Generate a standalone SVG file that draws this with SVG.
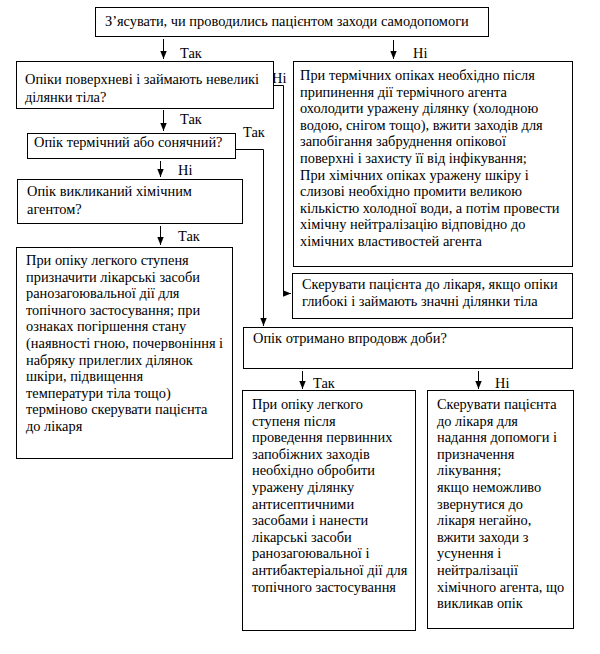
<svg xmlns="http://www.w3.org/2000/svg" width="600" height="654" viewBox="0 0 600 654">
<defs>
<marker id="ah" viewBox="0 0 8 8" refX="8" refY="4" markerWidth="8" markerHeight="8" markerUnits="userSpaceOnUse" orient="auto">
<path d="M0,0.8 L8,4 L0,7.2 Z" fill="#000"/>
</marker>
<style>
.b{fill:#fff;stroke:#000;stroke-width:1}
.t{font-family:"Liberation Serif","Times New Roman",serif;font-size:14.4px;fill:#000}
.a{fill:none;stroke:#000;stroke-width:1;marker-end:url(#ah)}
</style>
</defs>
<rect width="600" height="654" fill="#fff"/>
<g id="connectors">
<path class="a" d="M163.5,39 V59"/>
<path class="a" d="M393.5,40 V59"/>
<path class="a" d="M163.5,110 V131"/>
<path class="a" d="M273,85.5 H283.5 V293.5 H291"/>
<path class="a" d="M235,149.5 H263.5 V326"/>
<path class="a" d="M160.5,161 V177"/>
<path class="a" d="M160.5,226 V245"/>
<path class="a" d="M302.5,371 V389"/>
<path class="a" d="M478.5,371 V389"/>
<text class="t" x="180" y="58">Так</text>
<text class="t" x="413" y="58">Ні</text>
<text class="t" x="180" y="124">Так</text>
<text class="t" x="272" y="83">Ні</text>
<text class="t" x="243" y="137">Так</text>
<text class="t" x="178" y="175">Ні</text>
<text class="t" x="178" y="241">Так</text>
<text class="t" x="313" y="388">Так</text>
<text class="t" x="495" y="388">Ні</text>
</g>
<g id="n1">
<rect class="b" x="95.5" y="7.5" width="393" height="29"/>
<text class="t" x="105" y="26">З’ясувати, чи проводились пацієнтом заходи самодопомоги</text>
</g>
<g id="n2">
<rect class="b" x="16.5" y="61.5" width="257" height="47"/>
<text class="t" x="25" y="84">Опіки поверхневі і займають невеликі</text>
<text class="t" x="25" y="102">ділянки тіла?</text>
</g>
<g id="n3">
<rect class="b" x="27.5" y="133.5" width="208" height="25"/>
<text class="t" x="34" y="147">Опік термічний або сонячний?</text>
</g>
<g id="n4">
<rect class="b" x="17.5" y="179.5" width="225" height="44"/>
<text class="t" x="27" y="196">Опік викликаний хімічним</text>
<text class="t" x="27" y="214">агентом?</text>
</g>
<g id="n5">
<rect class="b" x="16.5" y="247.5" width="216" height="211"/>
<text class="t">
<tspan x="26" y="265">При опіку легкого ступеня</tspan>
<tspan x="26" y="281.6">призначити лікарські засоби</tspan>
<tspan x="26" y="298.2">ранозагоювальної дії для</tspan>
<tspan x="26" y="314.8">топічного застосування; при</tspan>
<tspan x="26" y="331.4">ознаках погіршення стану</tspan>
<tspan x="26" y="348">(наявності гною, почервоніння і</tspan>
<tspan x="26" y="364.6">набряку прилеглих ділянок</tspan>
<tspan x="26" y="381.2">шкіри, підвищення</tspan>
<tspan x="26" y="397.8">температури тіла тощо)</tspan>
<tspan x="26" y="414.4">терміново скерувати пацієнта</tspan>
<tspan x="26" y="431">до лікаря</tspan>
</text>
</g>
<g id="n6">
<rect class="b" x="293.5" y="61.5" width="279" height="205"/>
<text class="t">
<tspan x="300" y="80">При термічних опіках необхідно після</tspan>
<tspan x="300" y="96.6">припинення дії термічного агента</tspan>
<tspan x="300" y="113.2">охолодити уражену ділянку (холодною</tspan>
<tspan x="300" y="129.8">водою, снігом тощо), вжити заходів для</tspan>
<tspan x="300" y="146.4">запобігання забруднення опікової</tspan>
<tspan x="300" y="163">поверхні і захисту її від інфікування;</tspan>
<tspan x="300" y="179.6">При хімічних опіках уражену шкіру і</tspan>
<tspan x="300" y="196.2">слизові необхідно промити великою</tspan>
<tspan x="300" y="212.8">кількістю холодної води, а потім провести</tspan>
<tspan x="300" y="229.4">хімічну нейтралізацію відповідно до</tspan>
<tspan x="300" y="246">хімічних властивостей агента</tspan>
</text>
</g>
<g id="n7">
<rect class="b" x="292.5" y="273.5" width="280" height="45"/>
<text class="t">
<tspan x="302" y="289">Скерувати пацієнта до лікаря, якщо опіки</tspan>
<tspan x="302" y="306">глибокі і займають значні ділянки тіла</tspan>
</text>
</g>
<g id="n8">
<rect class="b" x="243.5" y="327.5" width="329" height="41"/>
<text class="t" x="253" y="343">Опік отримано впродовж доби?</text>
</g>
<g id="n9">
<rect class="b" x="242.5" y="390.5" width="173" height="240"/>
<text class="t">
<tspan x="252" y="409">При опіку легкого</tspan>
<tspan x="252" y="425.6">ступеня після</tspan>
<tspan x="252" y="442.2">проведення первинних</tspan>
<tspan x="252" y="458.8">запобіжних заходів</tspan>
<tspan x="252" y="475.4">необхідно обробити</tspan>
<tspan x="252" y="492">уражену ділянку</tspan>
<tspan x="252" y="508.6">антисептичними</tspan>
<tspan x="252" y="525.2">засобами і нанести</tspan>
<tspan x="252" y="541.8">лікарські засоби</tspan>
<tspan x="252" y="558.4">ранозагоювальної і</tspan>
<tspan x="252" y="575">антибактеріальної дії для</tspan>
<tspan x="252" y="591.6">топічного застосування</tspan>
</text>
</g>
<g id="n10">
<rect class="b" x="427.5" y="390.5" width="146" height="238"/>
<text class="t">
<tspan x="437" y="409">Скерувати пацієнта</tspan>
<tspan x="437" y="425.6">до лікаря для</tspan>
<tspan x="437" y="442.2">надання допомоги і</tspan>
<tspan x="437" y="458.8">призначення</tspan>
<tspan x="437" y="475.4">лікування;</tspan>
<tspan x="437" y="492">якщо неможливо</tspan>
<tspan x="437" y="508.6">звернутися до</tspan>
<tspan x="437" y="525.2">лікаря негайно,</tspan>
<tspan x="437" y="541.8">вжити заходи з</tspan>
<tspan x="437" y="558.4">усунення і</tspan>
<tspan x="437" y="575">нейтралізації</tspan>
<tspan x="437" y="591.6">хімічного агента, що</tspan>
<tspan x="437" y="608.2">викликав опік</tspan>
</text>
</g>
</svg>
